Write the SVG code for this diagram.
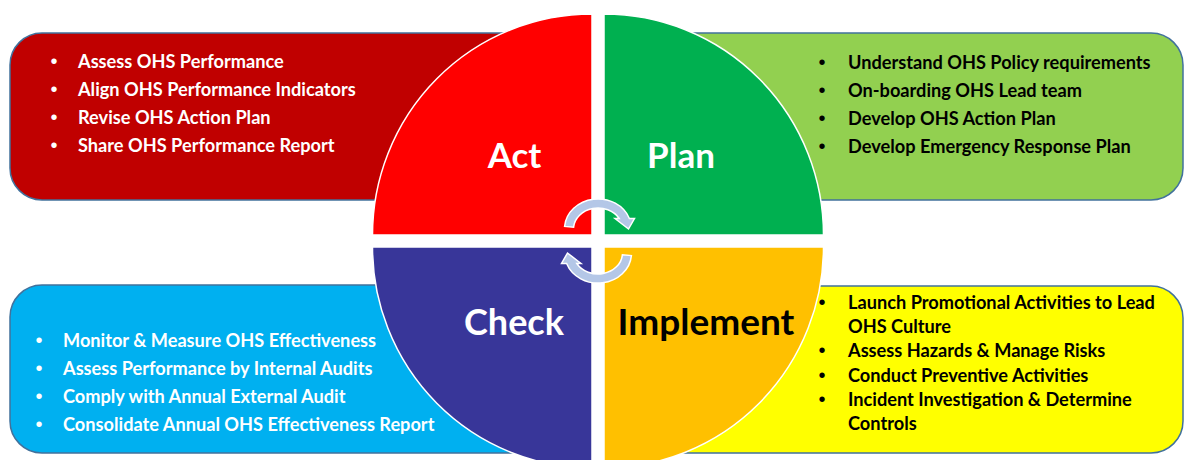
<svg xmlns="http://www.w3.org/2000/svg" width="1184" height="460" viewBox="0 0 1184 460">
<style>
.box{stroke:#41719C;stroke-width:1.5}
.q{stroke:#FFFFFF;stroke-width:1.5}
.t{font-family:Lato,"Liberation Sans",sans-serif;font-weight:bold;font-size:18.2px}
.b{font-family:"Liberation Sans",sans-serif;font-size:20px;text-anchor:middle}
.big{font-family:Lato,"Liberation Sans",sans-serif;font-weight:bold;text-anchor:middle}
.w{fill:#FFFFFF}
.k{fill:#000000}
.arr{fill:#B4C7E7;stroke:#FFFFFF;stroke-width:1.5}
</style>
<rect width="1184" height="460" fill="#FFFFFF"/>
<g id="box-act">
<path class="box" fill="#C00000" d="M10,65 A32,32 0 0 1 42,33 L560,33 L560,200 L42,200 A32,32 0 0 1 10,168 Z"/>
<text class="b w" x="54" y="68">•</text><text class="t w" x="78" y="68">Assess OHS Performance</text>
<text class="b w" x="54" y="96">•</text><text class="t w" x="78" y="96">Align OHS Performance Indicators</text>
<text class="b w" x="54" y="124">•</text><text class="t w" x="78" y="124">Revise OHS Action Plan</text>
<text class="b w" x="54" y="152">•</text><text class="t w" x="78" y="152">Share OHS Performance Report</text>
</g>
<g id="box-plan">
<path class="box" fill="#92D050" d="M640,33 L1151,33 A32,32 0 0 1 1183,65 L1183,168 A32,32 0 0 1 1151,200 L640,200 Z"/>
<text class="b k" x="822" y="69">•</text><text class="t k" x="848" y="69">Understand OHS Policy requirements</text>
<text class="b k" x="822" y="97">•</text><text class="t k" x="848" y="97">On-boarding OHS Lead team</text>
<text class="b k" x="822" y="125">•</text><text class="t k" x="848" y="125">Develop OHS Action Plan</text>
<text class="b k" x="822" y="153">•</text><text class="t k" x="848" y="153">Develop Emergency Response Plan</text>
</g>
<g id="box-implement">
<path class="box" fill="#FFFF00" d="M640,286 L1151,286 A32,32 0 0 1 1183,318 L1183,421 A32,32 0 0 1 1151,453 L640,453 Z"/>
<text class="b k" x="822" y="309">•</text><text class="t k" x="848" y="309">Launch Promotional Activities to Lead</text>
<text class="t k" x="848" y="333">OHS Culture</text>
<text class="b k" x="822" y="357">•</text><text class="t k" x="848" y="357">Assess Hazards &amp; Manage Risks</text>
<text class="b k" x="822" y="382">•</text><text class="t k" x="848" y="382">Conduct Preventive Activities</text>
<text class="b k" x="822" y="406">•</text><text class="t k" x="848" y="406">Incident Investigation &amp; Determine</text>
<text class="t k" x="848" y="430">Controls</text>
</g>
<g id="box-check">
<path class="box" fill="#00B0F0" d="M10,317 A32,32 0 0 1 42,285 L560,285 L560,453 L42,453 A32,32 0 0 1 10,421 Z"/>
<text class="b w" x="39" y="347">•</text><text class="t w" x="63" y="347">Monitor &amp; Measure OHS Effectiveness</text>
<text class="b w" x="39" y="375">•</text><text class="t w" x="63" y="375">Assess Performance by Internal Audits</text>
<text class="b w" x="39" y="403">•</text><text class="t w" x="63" y="403">Comply with Annual External Audit</text>
<text class="b w" x="39" y="431">•</text><text class="t w" x="63" y="431">Consolidate Annual OHS Effectiveness Report</text>
</g>
<g id="q-act">
<path class="q" fill="#FF0000" d="M592,235 L372.5,235 A219.5,221 0 0 1 592,14 Z"/>
<text class="big w" x="514.5" y="168" font-size="35">Act</text>
</g>
<g id="q-plan">
<path class="q" fill="#00B050" d="M604,235 L604,14 A219.5,221 0 0 1 823.5,235 Z"/>
<text class="big w" x="681" y="168" font-size="35">Plan</text>
</g>
<g id="q-implement">
<path class="q" fill="#FFC000" d="M604,247 L823.5,247 A219.5,221 0 0 1 604,468 Z"/>
<text class="big k" x="706" y="335" font-size="37">Implement</text>
</g>
<g id="q-check">
<path class="q" fill="#383699" d="M592,247 L592,468 A219.5,221 0 0 1 372.5,247 Z"/>
<text class="big w" x="514" y="335" font-size="36">Check</text>
</g>
<g id="connectors">
<path class="arr" d="M564.6,226.4 A33.5,30 0 0 1 629.4,218.5 L634.5,218.5 L628.5,229 L615,218.5 L619.2,218.5 A24.5,21 0 0 0 573.6,227.2 Z"/>
<path class="arr" transform="rotate(180 598 241)" d="M564.6,226.4 A33.5,30 0 0 1 629.4,218.5 L634.5,218.5 L628.5,229 L615,218.5 L619.2,218.5 A24.5,21 0 0 0 573.6,227.2 Z"/>
</g>
</svg>
